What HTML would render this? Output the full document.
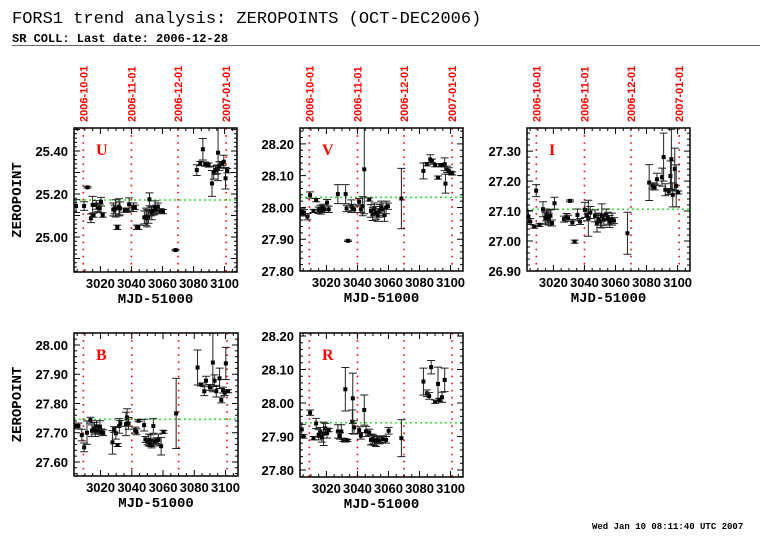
<!DOCTYPE html>
<html><head><meta charset="utf-8"><style>
html,body{margin:0;padding:0;background:#fff;}
svg{display:block;}
.title{font-family:"Liberation Mono",monospace;font-size:17px;}
.sub{font-family:"Liberation Mono",monospace;font-size:12px;font-weight:bold;}
.tick{font-family:"Liberation Sans",sans-serif;font-size:13px;font-weight:bold;}
.date{font-family:"Liberation Sans",sans-serif;font-size:11px;font-weight:bold;fill:#ff0000;}
</style></head><body>
<svg id="chart" width="782" height="542" viewBox="0 0 782 542" xmlns="http://www.w3.org/2000/svg">
<text class="title" x="12" y="23">FORS1 trend analysis: ZEROPOINTS (OCT-DEC2006)</text>
<text class="sub" x="12" y="42">SR COLL: Last date: 2006-12-28</text>
<line x1="12" y1="45.5" x2="760" y2="45.5" stroke="#666" stroke-width="1"/>
<text x="592" y="529" font-family="Liberation Mono,monospace" font-size="9" font-weight="bold">Wed Jan 10 08:11:40 UTC 2007</text>
<g id="plots"></g>
</svg>
<script>
// ---- data ----
const xRange = [3003, 3108];
const xTicks = [3020, 3040, 3060, 3080, 3100];
const dateLines = [3009, 3040, 3070, 3101];
const dateLabels = ["2006-10-01", "2006-11-01", "2006-12-01", "2007-01-01"];

const uMjd = [3004.3,3009.5,3011.7,3013.9,3015.6,3015.0,3017.4,3018.3,3019.6,3020.4,3021.5,3028.3,3029.1,3029.8,3030.9,3032.0,3032.6,3035.7,3037.4,3038.5,3041.3,3042.2,3043.5,3044.4,3048.3,3049.4,3050.1,3051.0,3051.6,3052.7,3053.1,3054.4,3055.3,3056.0,3057.0,3058.8,3060.3,3068.4,3082.1,3084.3,3086.0,3087.5,3089.7,3091.9,3093.0,3094.1,3095.2,3095.8,3096.7,3098.4,3099.5,3100.6,3101.7];
const uVal = [25.144,25.144,25.231,25.087,25.102,25.149,25.149,25.138,25.133,25.164,25.102,25.128,25.128,25.133,25.045,25.138,25.133,25.125,25.125,25.152,25.138,25.138,25.045,25.045,25.091,25.094,25.087,25.094,25.175,25.118,25.110,25.122,25.138,25.128,25.138,25.122,25.118,24.939,25.311,25.342,25.408,25.339,25.335,25.249,25.299,25.311,25.315,25.392,25.330,25.342,25.350,25.273,25.308];
const uErr = [0.03,0.02,0.003,0.02,0.01,0.04,0.02,0.02,0.02,0.02,0.01,0.03,0.02,0.04,0.01,0.04,0.03,0.01,0.01,0.03,0.02,0.01,0.01,0.01,0.03,0.04,0.04,0.03,0.03,0.02,0.03,0.02,0.03,0.02,0.02,0.01,0.01,0.003,0.025,0.01,0.05,0.01,0.01,0.06,0.03,0.02,0.02,0.13,0.02,0.01,0.03,0.05,0.01];

const vMjd = [3004.1,3005.6,3007.8,3009.5,3011.7,3013.4,3015.0,3016.1,3016.5,3017.8,3018.7,3020.4,3021.5,3027.4,3032.4,3033.0,3033.9,3036.1,3036.7,3037.8,3041.1,3042.2,3043.3,3044.4,3047.6,3048.7,3049.8,3050.9,3052.0,3053.1,3054.2,3055.3,3056.4,3057.4,3058.5,3059.6,3068.3,3082.5,3084.7,3086.9,3088.0,3090.1,3091.9,3093.4,3094.9,3096.2,3096.7,3097.8,3098.8,3099.9,3101.0];
const vVal = [27.986,27.983,27.971,28.039,27.989,28.023,27.991,27.997,27.989,28.000,27.994,28.015,27.994,28.042,28.042,27.997,27.895,28.004,28.000,27.994,28.018,27.994,28.004,28.120,28.025,27.989,27.979,27.994,27.983,27.976,27.989,28.000,27.994,27.976,28.000,28.004,28.028,28.115,28.136,28.151,28.147,28.133,28.094,28.133,28.133,28.136,28.075,28.120,28.115,28.109,28.107];
const vErr = [0.01,0.01,0.01,0.01,0.005,0.005,0.01,0.01,0.01,0.01,0.01,0.01,0.01,0.03,0.03,0.01,0.002,0.02,0.01,0.01,0.01,0.01,0.03,0.14,0.005,0.02,0.02,0.02,0.02,0.02,0.02,0.02,0.02,0.02,0.02,0.01,0.095,0.025,0.005,0.015,0.005,0.005,0.005,0.005,0.005,0.02,0.03,0.01,0.01,0.005,0.005];

const iMjd = [3003.9,3005.0,3007.6,3008.9,3011.1,3013.3,3014.8,3015.4,3016.3,3017.0,3018.1,3019.1,3020.7,3026.8,3028.5,3029.4,3030.7,3032.2,3033.7,3035.5,3037.2,3040.3,3041.6,3042.5,3043.8,3046.8,3048.1,3049.0,3050.3,3051.2,3052.5,3054.0,3055.1,3056.2,3057.7,3059.0,3067.7,3081.7,3083.8,3085.2,3086.7,3090.0,3091.0,3092.1,3094.3,3095.4,3096.0,3096.9,3098.2,3099.1,3100.4];
const iVal = [27.082,27.065,27.048,27.168,27.054,27.106,27.076,27.087,27.080,27.073,27.084,27.060,27.126,27.073,27.082,27.076,27.134,27.062,26.998,27.087,27.065,27.104,27.087,27.076,27.095,27.084,27.060,27.073,27.065,27.084,27.071,27.087,27.076,27.065,27.073,27.068,27.026,27.195,27.184,27.180,27.206,27.213,27.280,27.171,27.165,27.217,27.273,27.154,27.240,27.184,27.162];
const iErr = [0.02,0.01,0.005,0.02,0.005,0.025,0.02,0.02,0.02,0.02,0.02,0.01,0.02,0.01,0.01,0.01,0.003,0.01,0.005,0.02,0.01,0.025,0.02,0.06,0.02,0.02,0.03,0.02,0.02,0.04,0.02,0.02,0.02,0.02,0.02,0.01,0.07,0.06,0.01,0.01,0.02,0.03,0.08,0.02,0.01,0.05,0.1,0.04,0.07,0.07,0.005];

const bMjd = [3003.6,3005.8,3008.0,3009.5,3011.3,3013.5,3014.5,3016.1,3016.7,3017.4,3018.2,3019.6,3020.4,3021.7,3027.6,3028.7,3029.8,3030.9,3032.0,3032.6,3036.3,3037.0,3037.9,3042.2,3042.9,3044.4,3047.9,3048.7,3050.1,3050.9,3051.6,3052.2,3052.7,3053.8,3054.8,3055.9,3057.0,3058.8,3060.3,3068.4,3082.1,3084.3,3086.4,3087.5,3090.1,3091.9,3093.0,3094.1,3096.2,3097.3,3098.4,3099.5,3100.2,3101.7];
const bVal = [27.723,27.723,27.692,27.650,27.700,27.743,27.707,27.715,27.707,27.721,27.707,27.721,27.703,27.700,27.667,27.711,27.698,27.658,27.723,27.732,27.730,27.752,27.732,27.709,27.703,27.741,27.726,27.677,27.669,27.675,27.666,27.673,27.658,27.723,27.669,27.673,27.675,27.654,27.703,27.766,27.923,27.865,27.842,27.878,27.855,27.940,27.878,27.842,27.886,27.812,27.846,27.837,27.937,27.842];
const bErr = [0.01,0.01,0.02,0.015,0.04,0.01,0.02,0.02,0.02,0.02,0.01,0.02,0.01,0.01,0.04,0.01,0.02,0.005,0.025,0.01,0.04,0.03,0.02,0.01,0.01,0.003,0.02,0.01,0.01,0.02,0.01,0.02,0.01,0.025,0.01,0.01,0.02,0.03,0.005,0.12,0.06,0.005,0.015,0.015,0.01,0.1,0.02,0.02,0.035,0.01,0.01,0.01,0.055,0.005];

const rMjd = [3004.1,3005.2,3009.5,3011.7,3013.4,3015.0,3016.1,3017.1,3018.2,3019.3,3020.4,3021.5,3027.4,3028.7,3029.6,3030.9,3032.4,3033.5,3032.2,3036.7,3037.0,3037.8,3041.1,3042.2,3044.4,3045.5,3047.6,3048.7,3049.8,3050.9,3052.0,3053.1,3054.2,3056.4,3058.5,3060.1,3068.3,3082.5,3084.7,3086.2,3087.5,3090.1,3091.9,3092.7,3094.5,3096.2];
const rVal = [27.921,27.900,27.971,27.895,27.939,27.905,27.912,27.898,27.908,27.924,27.910,27.919,27.915,27.902,27.915,27.888,27.890,27.888,28.041,27.944,28.014,27.927,27.919,27.902,27.979,27.915,27.912,27.890,27.892,27.888,27.885,27.890,27.888,27.892,27.890,27.917,27.895,28.064,28.029,28.021,28.107,28.004,28.057,28.009,28.017,28.069];
const rErr = [0.015,0.005,0.008,0.005,0.015,0.015,0.015,0.015,0.035,0.015,0.015,0.005,0.02,0.01,0.02,0.003,0.003,0.003,0.065,0.035,0.075,0.02,0.01,0.01,0.045,0.015,0.01,0.015,0.015,0.015,0.015,0.01,0.01,0.01,0.01,0.01,0.055,0.04,0.01,0.01,0.02,0.005,0.05,0.005,0.015,0.035];

const panels = [
  {name:"U", x:74, y:128, w:163, h:144, yr:[24.837,25.507], ticks:[25.0,25.2,25.4], ref:25.172, mjd:uMjd, val:uVal, err:uErr, dates:true, ytitle:true},
  {name:"V", x:300, y:128, w:163, h:143, yr:[27.80,28.25], ticks:[27.8,27.9,28.0,28.1,28.2], ref:28.032, mjd:vMjd, val:vVal, err:vErr, dates:true},
  {name:"I", x:527, y:128, w:163, h:143, yr:[26.90,27.377], ticks:[26.9,27.0,27.1,27.2,27.3], ref:27.106, mjd:iMjd, val:iVal, err:iErr, dates:true},
  {name:"B", x:74, y:333, w:164, h:143, yr:[27.552,28.041], ticks:[27.6,27.7,27.8,27.9,28.0], ref:27.746, mjd:bMjd, val:bVal, err:bErr, ytitle:true},
  {name:"R", x:300, y:333, w:163, h:144, yr:[27.779,28.209], ticks:[27.8,27.9,28.0,28.1,28.2], ref:27.941, mjd:rMjd, val:rVal, err:rErr}
];

const NS = "http://www.w3.org/2000/svg";
function mk(tag, attrs, parent){ const e=document.createElementNS(NS,tag); for(const k in attrs) e.setAttribute(k,attrs[k]); parent.appendChild(e); return e; }
const root = document.getElementById("plots");

panels.forEach(p => {
  const g = mk("g", {}, root);
  
  
  const sx = v => p.x + (v - xRange[0]) / (xRange[1] - xRange[0]) * p.w;
  const sy = v => p.y + p.h - (v - p.yr[0]) / (p.yr[1] - p.yr[0]) * p.h;
  const cid = "clip" + p.name;
  const cp = mk("clipPath", {id:cid}, g);
  mk("rect", {x:p.x, y:p.y, width:p.w, height:p.h}, cp);
  dateLines.forEach((d, i) => {
    const ln = mk("line", {x1:sx(d), x2:sx(d), y1:p.y, y2:p.y+p.h, stroke:"#ff0000", "stroke-width":1.6, "stroke-dasharray":"1.6 5.5"}, g);
    
    
    if (p.dates) {
      const t = mk("text", {class:"date", transform:`translate(${sx(d)+4},${p.y-6}) rotate(-90)`}, g);
      t.textContent = dateLabels[i];
      
      
    }
  });
  const rl = mk("line", {x1:p.x, x2:p.x+p.w, y1:sy(p.ref), y2:sy(p.ref), stroke:"#33dd33", "stroke-width":1.6, "stroke-dasharray":"2 3"}, g);
  
  
  const dg = mk("g", {"clip-path":`url(#${cid})`}, g);
  p.mjd.forEach((m, i) => {
    const x = sx(m), y = sy(p.val[i]), e = p.err[i];
    const y1 = sy(p.val[i] + e), y2 = sy(p.val[i] - e);
    const eb = mk("path", {d:`M${x},${y1}V${y2}M${x-4},${y1}H${x+4}M${x-4},${y2}H${x+4}`, stroke:"#222", "stroke-width":1, fill:"none"}, dg);
    
    
    const pt = mk("rect", {x:x-2, y:y-2, width:4, height:4, fill:"#000"}, dg);
    
    
  });
  const fr = mk("rect", {x:p.x, y:p.y, width:p.w, height:p.h, fill:"none", stroke:"#000", "stroke-width":1.5}, g);
  
  
  let d = "";
  for (let v = 3005; v <= xRange[1]; v += 5) {
    const x = sx(v), L = (v % 20 === 0) ? 6 : 3;
    d += `M${x},${p.y+p.h}v${-L}M${x},${p.y}v${L}`;
  }
  const y0 = Math.ceil(p.yr[0] / 0.02 - 1e-6);
  for (let k = y0; k * 0.02 <= p.yr[1] + 1e-9; k++) {
    const v = k * 0.02, y = sy(v), L = (k % 5 === 0) ? 6 : 3;
    d += `M${p.x},${y}h${L}M${p.x+p.w},${y}h${-L}`;
  }
  mk("path", {d:d, stroke:"#000", "stroke-width":1, fill:"none"}, g);
  xTicks.forEach(v => {
    const t = mk("text", {class:"tick", x:sx(v), y:p.y+p.h+16, "text-anchor":"middle"}, g);
    t.textContent = v;
    
    
  });
  p.ticks.forEach(v => {
    const t = mk("text", {class:"tick", x:p.x-6, y:sy(v)+5, "text-anchor":"end"}, g);
    t.textContent = v.toFixed(2);
    
    
  });
  const xt = mk("text", {x:p.x+p.w/2, y:p.y+p.h+31, "text-anchor":"middle", "font-family":"Liberation Mono,monospace", "font-size":14, "font-weight":"bold"}, g);
  xt.textContent = "MJD-51000";
  
  
  if (p.ytitle) {
    const yt = mk("text", {transform:`translate(21,${p.y+p.h/2}) rotate(-90)`, "text-anchor":"middle", "font-family":"Liberation Mono,monospace", "font-size":14, "font-weight":"bold"}, g);
    yt.textContent = "ZEROPOINT";
    
    
  }
  const lb = mk("text", {x:p.x+22, y:p.y+27, "font-family":"Liberation Serif,serif", "font-size":16, "font-weight":"bold", fill:"#ff0000"}, g);
  lb.textContent = p.name;
  
  
});
</script>
</body></html>
